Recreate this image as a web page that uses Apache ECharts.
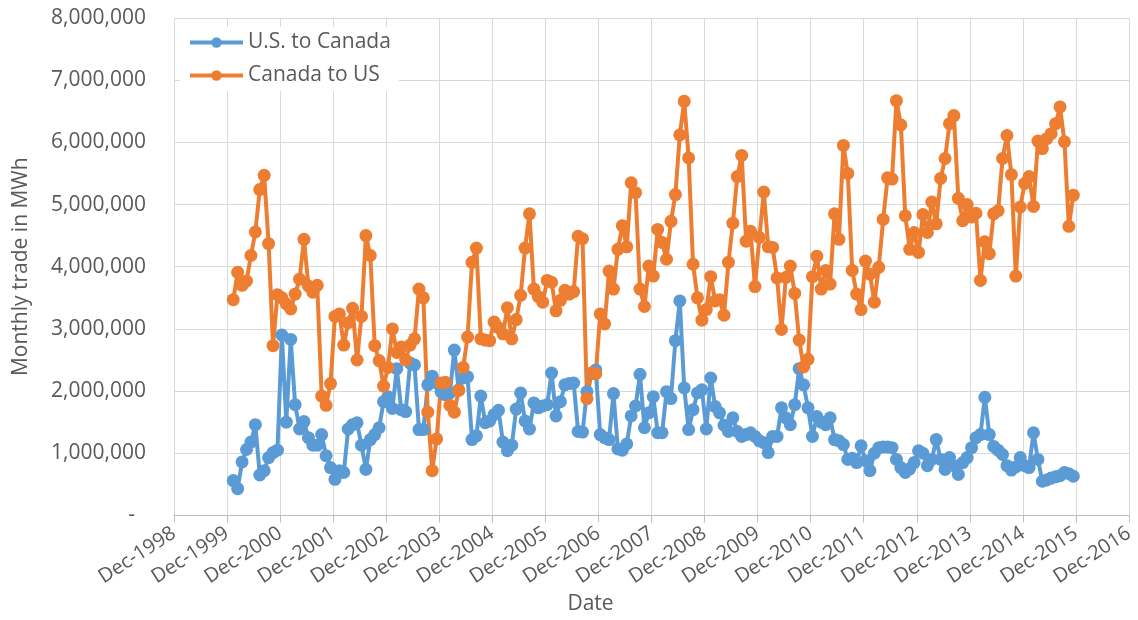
<!DOCTYPE html>
<html>
<head>
<meta charset="utf-8">
<script src="https://cdn.jsdelivr.net/npm/echarts@6/dist/echarts.min.js"></script>
<style>
  html, body { margin: 0; padding: 0; background: #fff; }
  #chart { width: 1138px; height: 620px; }
</style>
</head>
<body>
<div id="chart"></div>
<script>
// monthly series, Jan-2000 .. Nov-2015, in millions of MWh
var firstYear = 2000;
var seriesNames = ['U.S. to Canada', 'Canada to US'];

var usToCanada = [
  0.56, 0.43, 0.86, 1.06, 1.18, 1.46, 0.65, 0.72, 0.93, 1.01, 1.05, 2.90,
  1.50, 2.83, 1.78, 1.39, 1.51, 1.25, 1.13, 1.13, 1.30, 0.96, 0.77, 0.58,
  0.72, 0.69, 1.39, 1.46, 1.49, 1.13, 0.74, 1.22, 1.30, 1.41, 1.83, 1.91,
  1.72, 2.36, 1.70, 1.67, 2.45, 2.42, 1.38, 1.38, 2.10, 2.24, 2.13, 1.99,
  1.94, 1.97, 2.66, 2.02, 2.21, 2.23, 1.22, 1.28, 1.92, 1.49, 1.52, 1.62,
  1.69, 1.18, 1.04, 1.13, 1.71, 1.97, 1.52, 1.39, 1.81, 1.73, 1.76, 1.78,
  2.29, 1.60, 1.83, 2.10, 2.12, 2.13, 1.35, 1.34, 1.99, 2.28, 2.34, 1.30,
  1.25, 1.22, 1.96, 1.07, 1.05, 1.15, 1.60, 1.76, 2.27, 1.41, 1.65, 1.91,
  1.33, 1.33, 1.99, 1.88, 2.81, 3.45, 2.05, 1.38, 1.70, 1.97, 2.02, 1.39,
  2.21, 1.75, 1.65, 1.45, 1.35, 1.57, 1.35, 1.27, 1.30, 1.33, 1.27, 1.20,
  1.17, 1.01, 1.27, 1.27, 1.73, 1.57, 1.46, 1.78, 2.36, 2.10, 1.73, 1.27,
  1.59, 1.50, 1.46, 1.57, 1.22, 1.20, 1.14, 0.90, 0.92, 0.85, 1.12, 0.88,
  0.72, 1.00, 1.09, 1.10, 1.10, 1.09, 0.90, 0.77, 0.69, 0.75, 0.85, 1.04,
  1.00, 0.80, 0.90, 1.22, 0.90, 0.74, 0.93, 0.80, 0.66, 0.85, 0.93, 1.09,
  1.25, 1.30, 1.90, 1.30, 1.11, 1.05, 0.98, 0.80, 0.73, 0.78, 0.93, 0.80,
  0.77, 1.33, 0.90, 0.55, 0.57, 0.60, 0.62, 0.64, 0.69, 0.67, 0.63
];

var canadaToUs = [
  3.47, 3.91, 3.70, 3.77, 4.18, 4.56, 5.24, 5.47, 4.37, 2.73, 3.55, 3.50,
  3.40, 3.32, 3.56, 3.80, 4.44, 3.69, 3.59, 3.70, 1.92, 1.77, 2.12, 3.20,
  3.24, 2.74, 3.10, 3.33, 2.50, 3.20, 4.50, 4.18, 2.73, 2.49, 2.08, 2.38,
  3.00, 2.62, 2.71, 2.50, 2.74, 2.84, 3.64, 3.50, 1.66, 0.72, 1.23, 2.13,
  2.14, 1.77, 1.66, 2.01, 2.38, 2.87, 4.07, 4.30, 2.84, 2.82, 2.81, 3.11,
  3.02, 2.92, 3.34, 2.84, 3.15, 3.54, 4.30, 4.85, 3.64, 3.52, 3.43, 3.78,
  3.75, 3.29, 3.46, 3.62, 3.56, 3.60, 4.49, 4.45, 1.88, 2.29, 2.28, 3.24,
  3.08, 3.93, 3.64, 4.28, 4.66, 4.32, 5.35, 5.19, 3.64, 3.36, 4.01, 3.85,
  4.60, 4.39, 4.12, 4.73, 5.16, 6.12, 6.66, 5.75, 4.04, 3.50, 3.14, 3.31,
  3.84, 3.45, 3.47, 3.22, 4.07, 4.70, 5.45, 5.79, 4.41, 4.57, 3.68, 4.47,
  5.20, 4.32, 4.31, 3.82, 2.99, 3.83, 4.01, 3.57, 2.82, 2.39, 2.51, 3.84,
  4.17, 3.64, 3.94, 3.72, 4.85, 4.44, 5.95, 5.50, 3.94, 3.56, 3.31, 4.09,
  3.88, 3.43, 3.99, 4.76, 5.43, 5.41, 6.67, 6.28, 4.82, 4.28, 4.55, 4.23,
  4.84, 4.55, 5.04, 4.69, 5.42, 5.74, 6.30, 6.43, 5.10, 4.74, 5.00, 4.80,
  4.86, 3.78, 4.40, 4.21, 4.85, 4.90, 5.74, 6.11, 5.48, 3.85, 4.96, 5.34,
  5.45, 4.97, 6.02, 5.90, 6.06, 6.14, 6.30, 6.57, 6.01, 4.65, 5.15
];

var yTicks = [0, 1e6, 2e6, 3e6, 4e6, 5e6, 6e6, 7e6, 8e6];
var xTickYears = [1998, 1999, 2000, 2001, 2002, 2003, 2004, 2005, 2006, 2007,
  2008, 2009, 2010, 2011, 2012, 2013, 2014, 2015, 2016];

// x axis counts months from Dec-1998
var monthPos = function (i) {
  return (firstYear - 1998) * 12 - 11 + i + 0.4;
};
var toPoints = function (arr) {
  return arr.map(function (v, i) { return [monthPos(i), v * 1e6]; });
};

var txt = '#595959';
var font = 'Open Sans';

var dom = document.getElementById('chart');
var myChart = echarts.init(dom);

var option = {
  animation: false,
  color: ['#5B9BD5', '#ED7D31'],
  textStyle: { fontFamily: font, color: txt },
  grid: { left: 174, right: 9, top: 18, bottom: 100, containLabel: false },
  legend: {
    data: seriesNames,
    orient: 'vertical',
    left: 180,
    top: 27,
    padding: [5, 8, 5, 8],
    itemGap: 12,
    itemWidth: 53,
    itemHeight: 13,
    lineStyle: { width: 4 },
    backgroundColor: '#fff',
    textStyle: { fontFamily: font, fontSize: 21, color: txt, lineHeight: 21 }
  },
  xAxis: {
    type: 'value',
    min: 0,
    max: (xTickYears[xTickYears.length - 1] - xTickYears[0]) * 12,
    interval: 12,
    name: 'Date',
    nameLocation: 'middle',
    nameGap: 78,
    nameTextStyle: { fontFamily: font, fontSize: 21, color: txt, padding: [0, 122, 0, 0] },
    axisLine: { show: true, lineStyle: { color: '#BFBFBF', width: 1 } },
    axisTick: { show: true, length: 7, lineStyle: { color: '#BFBFBF' } },
    splitLine: { show: true, lineStyle: { color: '#D9D9D9', width: 1 } },
    axisLabel: {
      rotate: 33,
      margin: 16,
      fontFamily: font,
      fontSize: 20,
      color: txt,
      formatter: function (v) { return 'Dec-' + xTickYears[Math.round(v / 12)]; }
    }
  },
  yAxis: {
    type: 'value',
    min: yTicks[0],
    max: yTicks[yTicks.length - 1],
    interval: 1e6,
    name: 'Monthly trade in MWh',
    nameLocation: 'middle',
    nameGap: 142,
    nameTextStyle: { fontFamily: font, fontSize: 21, color: txt },
    axisLine: { show: false },
    axisTick: { show: false },
    splitLine: { show: true, lineStyle: { color: '#D9D9D9', width: 1 } },
    axisLabel: {
      margin: 28,
      fontFamily: font,
      fontSize: 21,
      color: txt,
      formatter: function (v) {
        if (v === 0) return '-  ';
        return v.toLocaleString('en-US');
      }
    }
  },
  series: [
    {
      name: seriesNames[0],
      type: 'line',
      data: toPoints(usToCanada),
      symbol: 'circle',
      symbolSize: 13,
      showAllSymbol: true,
      lineStyle: { width: 4 },
      itemStyle: { color: '#5B9BD5' }
    },
    {
      name: seriesNames[1],
      type: 'line',
      data: toPoints(canadaToUs),
      symbol: 'circle',
      symbolSize: 13,
      showAllSymbol: true,
      lineStyle: { width: 4 },
      itemStyle: { color: '#ED7D31' }
    }
  ]
};

if (option && typeof option === 'object') {
  myChart.setOption(option, true);
}
</script>
</body>
</html>
